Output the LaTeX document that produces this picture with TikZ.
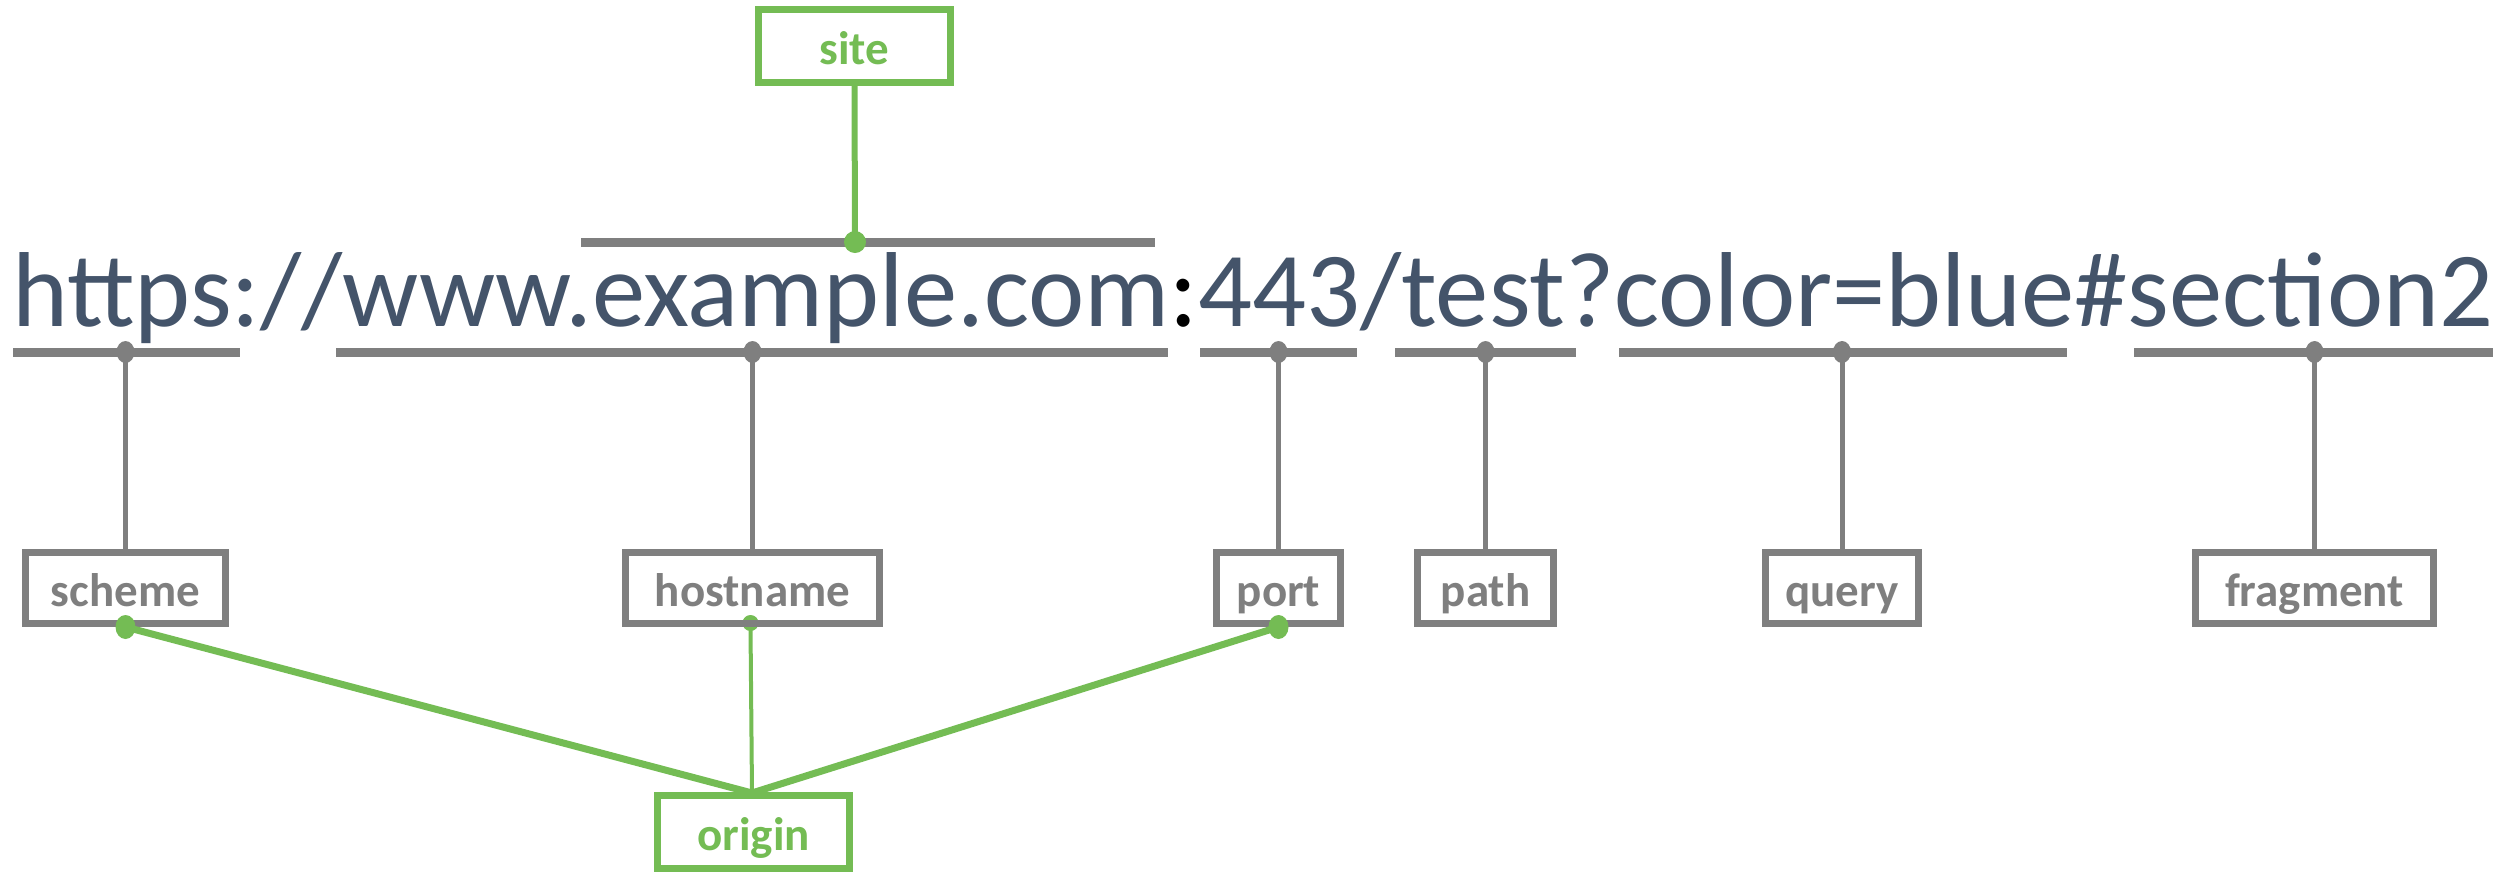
\documentclass[tikz,border=0pt]{standalone}
\usepackage{fontspec}
\setmainfont{Carlito}
\usepackage{graphicx}
\definecolor{ugray}{HTML}{7F7F7F}
\definecolor{utext}{HTML}{44546A}
\definecolor{ugreen}{HTML}{74BC54}
\tikzset{
  graybox/.style={draw=ugray, line width=7pt, fill=white, inner sep=0pt, minimum height=71pt, text=ugray, text height=42pt, text depth=6pt, font=\fontsize{47}{50}\selectfont\bfseries},
  greenbox/.style={draw=ugreen, line width=7pt, fill=white, inner sep=0pt, minimum height=73pt, minimum width=192pt, text=ugreen, text height=42pt, text depth=6pt, font=\fontsize{47}{50}\selectfont\bfseries},
  bar/.style={draw=ugray, line width=9pt},
  stem/.style={draw=ugray, line width=5pt},
  link/.style={draw=ugreen, line width=7pt},
  thinlink/.style={draw=ugreen, line width=4pt},
}
\begin{document}
\begin{tikzpicture}[x=1pt,y=-1pt]
\useasboundingbox (0,0) rectangle (2509,879);
% URL text
\node[anchor=base west, inner sep=0pt, text=utext] (url) at (12,326)
  {\resizebox{2481pt}{!}{\fontsize{110}{120}\selectfont https://www.example.com\textcolor{black}{:}443/test?color=blue\#section2}};
% bars
\coordinate (topL) at (581,242); \coordinate (topR) at (1155,242);
\coordinate (sitedot) at (855,242);
\draw[bar] (topL) -- (topR);
\coordinate (b1L) at (13,352);  \coordinate (b1R) at (240,352);  \coordinate (d1) at (125.5,352);
\coordinate (b2L) at (336,352); \coordinate (b2R) at (1168,352); \coordinate (d2) at (752.5,352);
\coordinate (b3L) at (1200,352);\coordinate (b3R) at (1357,352); \coordinate (d3) at (1278.5,352);
\coordinate (b4L) at (1395,352);\coordinate (b4R) at (1576,352); \coordinate (d4) at (1485.5,352);
\coordinate (b5L) at (1619,352);\coordinate (b5R) at (2067,352); \coordinate (d5) at (1842,352);
\coordinate (b6L) at (2134,352);\coordinate (b6R) at (2493,352); \coordinate (d6) at (2314.5,352);
\foreach \i in {1,...,6}{\draw[bar] (b\i L) -- (b\i R);}
% boxes
\node[greenbox] (site) at (854.5,46) {site};
\node[graybox, minimum width=200pt] (scheme) at (125.5,588) {scheme};
\node[graybox, minimum width=254pt] (hostname) at (752.5,588) {hostname};
\node[graybox, minimum width=124pt] (port) at (1278.5,588) {port};
\node[graybox, minimum width=136pt] (path) at (1485.5,588) {path};
\node[graybox, minimum width=153pt] (query) at (1842,588) {query};
\node[graybox, minimum width=238pt] (fragment) at (2314.5,588) {fragment};
\node[greenbox] (origin) at (753.5,832) {origin};
% stems
\draw[stem] (d1) -- (scheme.north);
\draw[stem] (d2) -- (hostname.north);
\draw[stem] (d3) -- (port.north);
\draw[stem] (d4) -- (path.north);
\draw[stem] (d5) -- (query.north);
\draw[stem] (d6) -- (fragment.north);
\foreach \i in {1,...,6}{\fill[ugray] (d\i) circle[x radius=9pt, y radius=11pt];}
% site link
\draw[link, line width=6pt] (site.south) -- (sitedot);
\fill[ugreen] (sitedot) circle[radius=11pt];
% origin links
\coordinate (otop) at (752,793);
\draw[thinlink] (otop) -- ([xshift=-2pt]hostname.south);
\fill[ugreen] ([xshift=-2pt,yshift=4pt]hostname.south) circle[radius=8pt];
\node[graybox, minimum width=254pt, fill=none, text opacity=0] at (752.5,588) {};
\draw[link] (otop) -- (scheme.south);
\draw[link] (otop) -- (port.south);
\fill[ugreen] (scheme.south) circle[x radius=10pt, y radius=12pt];
\fill[ugreen] (port.south) circle[x radius=10pt, y radius=12pt];
\end{tikzpicture}
\end{document}
